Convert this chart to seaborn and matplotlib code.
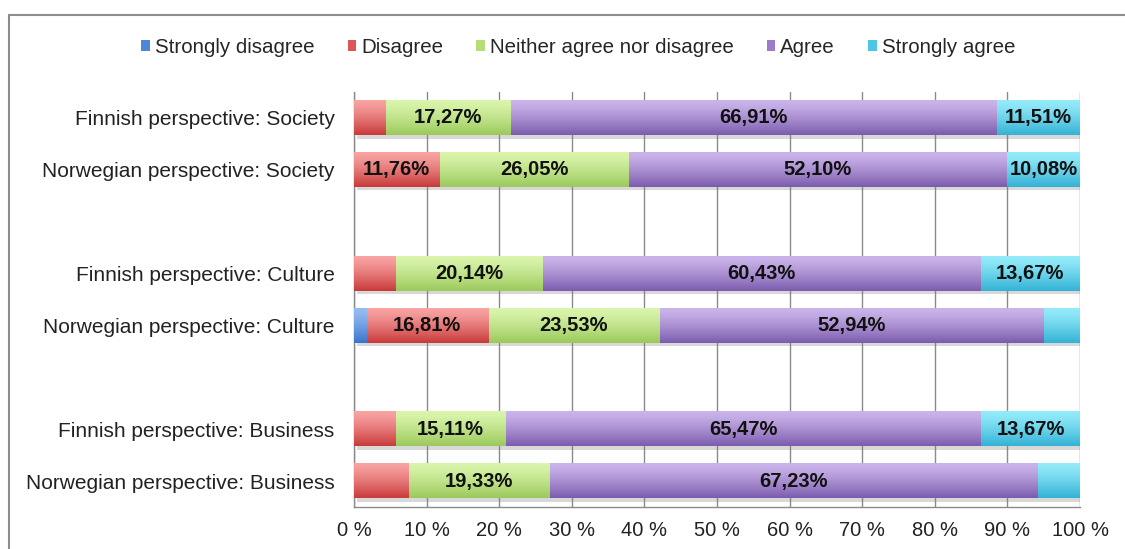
import numpy as np
import pandas as pd
import matplotlib
matplotlib.use("Agg")
import matplotlib.pyplot as plt
import matplotlib.patheffects as pe
from matplotlib.colors import to_rgb
from matplotlib.patches import Rectangle, Patch
import seaborn as sns

# --- data -------------------------------------------------------------------
bars = [
    "Finnish perspective: Society",
    "Norwegian perspective: Society",
    "Finnish perspective: Culture",
    "Norwegian perspective: Culture",
    "Finnish perspective: Business",
    "Norwegian perspective: Business",
]
# blank rows separate the three topic groups
row_order = [bars[0], bars[1], " ", bars[2], bars[3], "  ", bars[4], bars[5]]

series = ["Strongly disagree", "Disagree", "Neither agree nor disagree",
          "Agree", "Strongly agree"]

strongly_disagree = [0.00, 0.00, 0.00, 1.68, 0.00, 0.00]
disagree = [4.32, 11.76, 5.76, 16.81, 5.76, 7.56]
neither = [17.27, 26.05, 20.14, 23.53, 15.11, 19.33]
agree = [66.91, 52.10, 60.43, 52.94, 65.47, 67.23]
strongly_agree = [11.51, 10.08, 13.67, 5.04, 13.67, 5.88]

# which segments carry a value label
show_sd = [False] * 6
show_d = [False, True, False, True, False, False]
show_n = [True] * 6
show_a = [True] * 6
show_sa = [True, True, True, False, True, False]

values = [strongly_disagree, disagree, neither, agree, strongly_agree]
shown = [show_sd, show_d, show_n, show_a, show_sa]

# light (top) and dark (bottom) shades of each series colour
light = ["#96bcf2", "#f9a3a3", "#daf5ac", "#cbb4ea", "#94ebfa"]
dark = ["#3a74cc", "#c93a3a", "#9cc95c", "#7c5cae", "#33b2d5"]
mid = ["#4f86d6", "#e05555", "#b5de78", "#9c7cca", "#4cc6e4"]

# --- style ------------------------------------------------------------------
sns.set_style("white")
plt.rcParams["font.family"] = ["Liberation Sans", "DejaVu Sans"]
grey = "#8a8a8a"

fig = plt.figure(figsize=(11.25, 5.49), dpi=100)
ax = fig.add_axes([354 / 1125, 1 - 507 / 549, (1080 - 354) / 1125, (507 - 92) / 549])

vals = np.array(values)
cum = np.cumsum(vals, axis=0)

def gradient_image(c_top, c_bot, n=64):
    t = np.linspace(0, 1, n) ** 1.3
    a, b = np.array(to_rgb(c_top)), np.array(to_rgb(c_bot))
    return (a[None, :] * (1 - t[:, None]) + b[None, :] * t[:, None])[:, None, :]

# stacked bars: draw cumulative totals from the right-most series down
draw_rank = 0
for k in reversed(range(len(series))):
    df = pd.DataFrame({"category": bars, "right": cum[k]})
    sns.barplot(data=df, x="right", y="category", order=row_order, orient="h",
                color=mid[k], width=0.66, linewidth=0, errorbar=None, ax=ax)
    cont = ax.containers[-1]
    z = 2 + draw_rank * 2
    img = gradient_image(light[k], dark[k])
    for p in cont.patches:
        p.set_zorder(z)
        w = p.get_width()
        if not np.isfinite(w) or w <= 0:
            continue
        x0, y0, h = p.get_x(), p.get_y(), p.get_height()
        ax.imshow(img, extent=(x0, x0 + w, y0 + h, y0), origin="upper",
                  aspect="auto", zorder=z + 0.5, interpolation="bilinear")
        if draw_rank == 0:
            p.set_path_effects([pe.SimplePatchShadow(offset=(2.5, -2.5), alpha=0.3,
                                                     shadow_rgbFace="#808080"),
                                pe.Normal()])
    draw_rank += 1

# value labels centred in their segments
pos = {c: i for i, c in enumerate(row_order)}
for k in range(len(series)):
    for j, b in enumerate(bars):
        if shown[k][j]:
            v = vals[k][j]
            xc = cum[k][j] - v / 2
            ax.text(xc, pos[b], f"{v:.2f}".replace(".", ",") + "%",
                    ha="center", va="center", fontsize=14.5, fontweight="bold",
                    color="#111111", zorder=30)

# --- axes -------------------------------------------------------------------
ax.set_xlim(0, 100)
ax.set_ylim(len(row_order) - 0.5, -0.5)
ax.set_xlabel("")
ax.set_ylabel("")
xt = np.arange(0, 101, 10)
ax.set_xticks(xt)
ax.set_xticklabels([f"{t} %" for t in xt], fontsize=14.5, color="#222222")
ax.xaxis.grid(True, color=grey, lw=1)
ax.yaxis.grid(False)
ax.set_axisbelow(True)

ax.set_yticks(range(len(row_order)))
ax.set_yticklabels(row_order, fontsize=15, color="#222222")
ax.set_yticks(np.arange(-0.5, len(row_order), 1), minor=True)
ax.tick_params(axis="y", which="major", length=0, pad=14)
ax.tick_params(axis="y", which="minor", length=5, width=1, color=grey, direction="out")
ax.tick_params(axis="x", which="major", length=5, width=1, color=grey,
               direction="out", pad=5)

for s in ("top", "right"):
    ax.spines[s].set_visible(False)
for s in ("left", "bottom"):
    ax.spines[s].set_color(grey)
    ax.spines[s].set_linewidth(1)

# legend across the top
handles = [Patch(facecolor=mid[k], edgecolor="none") for k in range(len(series))]
fig.legend(handles, series, loc="center", bbox_to_anchor=(0.514, 0.914), ncol=5,
           frameon=False, fontsize=14.8, handlelength=0.42, handleheight=0.5,
           handletextpad=0.25, columnspacing=1.6)

# chart-area frame
fig.add_artist(Rectangle((9 / 1125, -0.2), 1.2, (1 - 15 / 549) + 0.2,
                         transform=fig.transFigure, fill=False,
                         edgecolor="#8c8c8c", lw=1.5, clip_on=False))

fig.savefig("out.png", dpi=100)
